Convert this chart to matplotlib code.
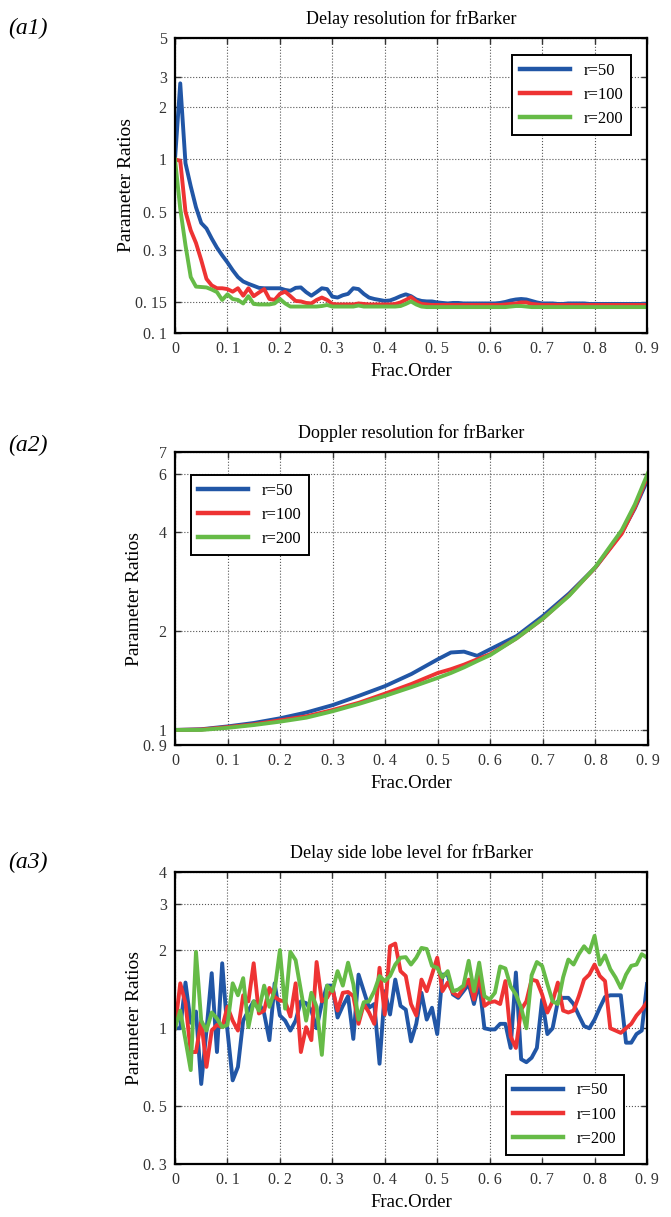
import numpy as np
import matplotlib
matplotlib.use("Agg")
import matplotlib.pyplot as plt

plt.rcParams['font.family'] = ['Liberation Serif', 'DejaVu Serif']

# ---- data ----
labels = ["r=50", "r=100", "r=200"]
colors = ["#2156a6", "#ee3333", "#66bb47"]

# x grid used for (a1) and (a3): 0 .. 0.9 step 0.01
frac = np.round(np.arange(0, 91) * 0.01, 2)

# (a1) Delay resolution
delay_r50 = [1.0, 2.74, 0.95, 0.70, 0.53, 0.43, 0.40, 0.35, 0.31, 0.28,
             0.255, 0.23, 0.21, 0.198, 0.192, 0.187, 0.182, 0.181, 0.181, 0.181,
             0.181, 0.177, 0.175, 0.182, 0.183, 0.172, 0.164, 0.172, 0.181, 0.179,
             0.162, 0.160, 0.165, 0.168, 0.181, 0.179, 0.168, 0.160, 0.157, 0.155,
             0.153, 0.154, 0.158, 0.163, 0.167, 0.163, 0.156, 0.153, 0.152, 0.152,
             0.150, 0.149, 0.148, 0.149, 0.149, 0.148, 0.148, 0.148, 0.148, 0.148,
             0.148, 0.148, 0.149, 0.151, 0.154, 0.156, 0.157, 0.156, 0.153, 0.150,
             0.148, 0.148, 0.148, 0.147, 0.147, 0.148, 0.148, 0.148, 0.148, 0.147,
             0.147, 0.147, 0.147, 0.147, 0.147, 0.147, 0.147, 0.147, 0.147, 0.147,
             0.147]
delay_r100 = [1.0, 0.98, 0.50, 0.39, 0.33, 0.263, 0.205, 0.188, 0.181, 0.181,
              0.179, 0.173, 0.181, 0.164, 0.181, 0.163, 0.171, 0.179, 0.157, 0.155,
              0.168, 0.173, 0.163, 0.153, 0.152, 0.149, 0.148, 0.155, 0.160, 0.155,
              0.147, 0.146, 0.146, 0.146, 0.146, 0.148, 0.147, 0.146, 0.146, 0.146,
              0.146, 0.146, 0.147, 0.150, 0.155, 0.161, 0.152, 0.147, 0.146, 0.145,
              0.145, 0.145, 0.145, 0.145, 0.145, 0.145, 0.145, 0.145, 0.145, 0.145,
              0.145, 0.145, 0.145, 0.146, 0.147, 0.148, 0.150, 0.150, 0.147, 0.146,
              0.145, 0.145, 0.145, 0.145, 0.145, 0.145, 0.145, 0.145, 0.145, 0.145,
              0.145, 0.145, 0.145, 0.145, 0.145, 0.145, 0.145, 0.145, 0.145, 0.145,
              0.145]
delay_r200 = [1.0, 0.52, 0.32, 0.21, 0.185, 0.184, 0.183, 0.178, 0.172, 0.155,
              0.167, 0.157, 0.155, 0.148, 0.163, 0.147, 0.146, 0.146, 0.146, 0.148,
              0.157, 0.148, 0.142, 0.142, 0.142, 0.142, 0.142, 0.142, 0.143, 0.145,
              0.142, 0.142, 0.142, 0.142, 0.142, 0.144, 0.142, 0.142, 0.142, 0.142,
              0.142, 0.142, 0.142, 0.143, 0.147, 0.152, 0.146, 0.142, 0.141, 0.141,
              0.141, 0.141, 0.141, 0.141, 0.141, 0.141, 0.141, 0.141, 0.141, 0.141,
              0.141, 0.141, 0.141, 0.141, 0.142, 0.143, 0.143, 0.142, 0.141, 0.141,
              0.141, 0.141, 0.141, 0.141, 0.141, 0.141, 0.141, 0.141, 0.141, 0.141,
              0.141, 0.141, 0.141, 0.141, 0.141, 0.141, 0.141, 0.141, 0.141, 0.141,
              0.141]

# (a2) Doppler resolution
frac_dop = [0, 0.05, 0.1, 0.15, 0.2, 0.25, 0.3, 0.35, 0.4, 0.45, 0.5,
            0.525, 0.55, 0.575, 0.6, 0.65, 0.7, 0.75, 0.8, 0.85, 0.875, 0.9]
dop_r50 = [1.0, 1.005, 1.025, 1.05, 1.085, 1.13, 1.19, 1.27, 1.36, 1.48, 1.64,
           1.72, 1.73, 1.68, 1.76, 1.93, 2.22, 2.60, 3.12, 3.98, 4.72, 5.80]
dop_r100 = [1.0, 1.003, 1.02, 1.04, 1.07, 1.10, 1.15, 1.21, 1.29, 1.38, 1.49,
            1.53, 1.58, 1.64, 1.70, 1.90, 2.18, 2.57, 3.12, 3.95, 4.75, 5.95]
dop_r200 = [1.0, 1.0, 1.015, 1.035, 1.06, 1.09, 1.14, 1.20, 1.27, 1.35, 1.44,
            1.49, 1.55, 1.62, 1.69, 1.90, 2.18, 2.56, 3.13, 4.05, 4.85, 6.05]

# (a3) Delay side lobe level
psl_r50 = [1.0, 1.0, 1.5, 1.05, 1.16, 0.61, 0.98, 1.63, 0.81, 1.78,
           0.98, 0.63, 0.71, 1.07, 1.17, 1.27, 1.25, 1.14, 0.90, 1.49,
           1.12, 1.07, 0.98, 1.07, 1.27, 1.25, 1.17, 1.0, 1.25, 1.46,
           1.46, 1.10, 1.22, 1.33, 0.91, 1.61, 1.39, 1.20, 1.24, 0.73,
           1.39, 1.13, 1.54, 1.22, 1.18, 0.89, 1.04, 1.37, 1.08, 1.20,
           0.95, 1.61, 1.61, 1.35, 1.31, 1.39, 1.48, 1.24, 1.50, 1.0,
           0.99, 0.99, 1.04, 1.04, 0.84, 1.64, 0.76, 0.74, 0.77, 0.84,
           1.29, 0.95, 1.0, 1.27, 1.31, 1.31, 1.24, 1.12, 1.02, 1.0,
           1.08, 1.20, 1.32, 1.34, 1.34, 1.34, 0.88, 0.88, 0.95, 0.98,
           1.48]
psl_r100 = [1.0, 1.49, 1.25, 0.81, 0.81, 1.07, 0.71, 0.98, 1.03, 1.01,
            1.21, 1.07, 0.98, 1.34, 1.27, 1.78, 1.14, 1.17, 1.43, 1.32,
            1.28, 1.27, 1.11, 1.49, 0.81, 1.01, 0.90, 1.80, 1.27, 1.31,
            1.43, 1.17, 1.37, 1.38, 1.33, 1.04, 1.24, 1.15, 1.04, 1.71,
            1.13, 2.07, 2.12, 1.66, 1.59, 1.24, 1.12, 1.54, 1.39, 1.61,
            1.87, 1.39, 1.50, 1.37, 1.33, 1.43, 1.54, 1.29, 1.59, 1.22,
            1.26, 1.27, 1.24, 1.52, 0.93, 0.84, 1.18, 1.27, 1.54, 1.52,
            1.35, 1.15, 1.27, 1.50, 1.17, 1.15, 1.17, 1.33, 1.54, 1.61,
            1.76, 1.59, 1.52, 1.0, 0.98, 0.96, 1.0, 1.04, 1.12, 1.18,
            1.26]
psl_r200 = [1.0, 1.17, 0.90, 0.69, 1.97, 1.07, 0.98, 1.15, 1.09, 1.01,
            1.03, 1.49, 1.34, 1.56, 1.01, 1.27, 1.17, 1.46, 1.21, 1.40,
            2.0, 1.19, 1.97, 1.83, 1.40, 1.07, 1.37, 1.21, 0.79, 1.46,
            1.39, 1.66, 1.46, 1.79, 1.48, 1.08, 1.26, 1.27, 1.39, 1.59,
            1.52, 1.59, 1.76, 1.87, 1.88, 1.76, 1.87, 2.04, 2.02, 1.74,
            1.71, 1.57, 1.66, 1.39, 1.41, 1.46, 1.82, 1.39, 1.79, 1.33,
            1.29, 1.37, 1.73, 1.70, 1.45, 1.35, 1.20, 1.0, 1.60, 1.80,
            1.74, 1.48, 1.27, 1.24, 1.57, 1.84, 1.76, 1.93, 2.07, 1.96,
            2.27, 1.76, 1.91, 1.69, 1.57, 1.43, 1.61, 1.74, 1.76, 1.93,
            1.87]

xticks = [0, 0.1, 0.2, 0.3, 0.4, 0.5, 0.6, 0.7, 0.8, 0.9]
xticklabels = ["0", "0. 1", "0. 2", "0. 3", "0. 4", "0. 5", "0. 6", "0. 7", "0. 8", "0. 9"]

panels = [
    dict(tag="(a1)", title="Delay resolution for frBarker",
         x=frac, ys=[delay_r50, delay_r100, delay_r200],
         ylim=(0.1, 5), yticks=[0.1, 0.15, 0.3, 0.5, 1, 2, 3, 5],
         yticklabels=["0. 1", "0. 15", "0. 3", "0. 5", "1", "2", "3", "5"],
         legend_xy=(0.715, 0.942)),
    dict(tag="(a2)", title="Doppler resolution for frBarker",
         x=frac_dop, ys=[dop_r50, dop_r100, dop_r200],
         ylim=(0.9, 7), yticks=[0.9, 1, 2, 4, 6, 7],
         yticklabels=["0. 9", "1", "2", "4", "6", "7"],
         legend_xy=(0.033, 0.921)),
    dict(tag="(a3)", title="Delay side lobe level for frBarker",
         x=frac, ys=[psl_r50, psl_r100, psl_r200],
         ylim=(0.3, 4), yticks=[0.3, 0.5, 1, 2, 3, 4],
         yticklabels=["0. 3", "0. 5", "1", "2", "3", "4"],
         legend_xy=(0.701, 0.305)),
]

W, H = 671, 1217
fig = plt.figure(figsize=(W / 100, H / 100), dpi=100)

# axes boxes in pixels: left, top, right, bottom
boxes = [(175, 38, 647, 333), (175, 452, 648, 745), (175, 872, 647, 1164)]
tag_y = [28, 445, 862]

for p, (l, t, r, b), ty in zip(panels, boxes, tag_y):
    ax = fig.add_axes([l / W, 1 - b / H, (r - l) / W, (b - t) / H])
    for y, c, lab in zip(p["ys"], colors, labels):
        ax.plot(p["x"], y, color=c, lw=2.8, label=lab)
    ax.set_yscale('log')
    ax.set_xlim(0, 0.9)
    ax.set_ylim(*p["ylim"])
    ax.set_yticks(p["yticks"])
    ax.set_yticklabels(p["yticklabels"])
    ax.yaxis.set_minor_locator(matplotlib.ticker.NullLocator())
    ax.set_xticks(xticks)
    ax.set_xticklabels(xticklabels)
    ax.tick_params(direction='in', top=True, right=True, length=4, width=1,
                   labelsize=11.5, pad=6, colors='#333333')
    ax.grid(True, linestyle=':', color='#555555', linewidth=0.8)
    for s in ax.spines.values():
        s.set_linewidth(1.6)
        s.set_color('black')
    ax.set_title(p["title"], fontsize=13, pad=10)
    ax.set_xlabel("Frac.Order", fontsize=13.5, labelpad=4)
    ax.set_ylabel("Parameter Ratios", fontsize=14, labelpad=0)
    leg = ax.legend(loc='upper left', bbox_to_anchor=p["legend_xy"], borderaxespad=0,
                    fontsize=12, handlelength=3.0, labelspacing=0.5,
                    fancybox=False, framealpha=1, edgecolor='black',
                    borderpad=0.45, handletextpad=0.8)
    leg.get_frame().set_linewidth(1.4)
    for line in leg.get_lines():
        line.set_linewidth(3.2)
    fig.text(8 / W, 1 - ty / H, p["tag"], fontsize=17, style='italic',
             ha='left', va='center')

fig.savefig("out.png", dpi=100)
